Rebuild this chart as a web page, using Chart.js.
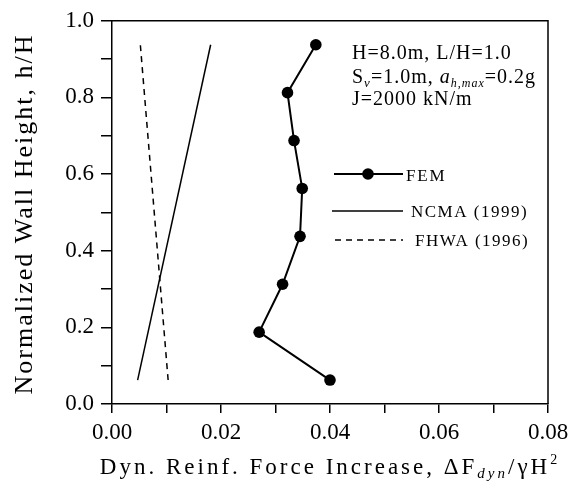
<!DOCTYPE html>
<html><head><meta charset="utf-8">
<script src="https://cdn.jsdelivr.net/npm/chart.js@4/dist/chart.umd.min.js"></script>
<style>html,body{margin:0;padding:0;background:#fff}#wrap{width:587px;height:483px}</style>
</head><body><div id="wrap"><canvas id="c" width="587" height="483"></canvas></div>
<script>
// ---- data ----
const heightRatio = [0.0625, 0.1875, 0.3125, 0.4375, 0.5625, 0.6875, 0.8125, 0.9375];
const femForce    = [0.0400, 0.0270, 0.0313, 0.0345, 0.0349, 0.0334, 0.0322, 0.0374];
const ncmaHeight  = [0.0625, 0.9375];
const ncmaForce   = [0.0047, 0.0181];
const fhwaHeight  = [0.0625, 0.9375];
const fhwaForce   = [0.0103, 0.0052];
const seriesNames = ['FEM', 'NCMA (1999)', 'FHWA (1996)'];
const xTickValues = [0, 0.01, 0.02, 0.03, 0.04, 0.05, 0.06, 0.07, 0.08];
const xTickLabels = ['0.00', '', '0.02', '', '0.04', '', '0.06', '', '0.08'];
const yTickValues = [0, 0.1, 0.2, 0.3, 0.4, 0.5, 0.6, 0.7, 0.8, 0.9, 1.0];
const yTickLabels = ['0.0', '', '0.2', '', '0.4', '', '0.6', '', '0.8', '', '1.0'];
const xTitle = 'Dyn. Reinf. Force Increase, ';
const yTitle = 'Normalized Wall Height, h/H';

const FONT = "'Liberation Serif', 'Times New Roman', serif";

function drawRuns(ctx, runs, x, y, align, spacing) {
  ctx.save();
  ctx.letterSpacing = spacing + 'px';
  ctx.textBaseline = 'alphabetic';
  ctx.textAlign = 'left';
  let total = 0;
  runs.forEach(r => { ctx.font = r.font; r.w = ctx.measureText(r.t).width; total += r.w; });
  let cx = align === 'center' ? x - total / 2 : x;
  runs.forEach(r => { ctx.font = r.font; ctx.fillText(r.t, cx, y + (r.dy || 0)); cx += r.w; });
  ctx.restore();
}

const decor = {
  id: 'decor',
  afterDraw(chart) {
    const ctx = chart.ctx, a = chart.chartArea;
    ctx.save();
    ctx.strokeStyle = '#000';
    ctx.lineWidth = 1.5;
    ctx.beginPath();
    ctx.moveTo(a.left, a.top); ctx.lineTo(a.right, a.top); ctx.lineTo(a.right, a.bottom);
    ctx.stroke();
    ctx.fillStyle = '#000';

    // annotation
    const f = s => s + 'px ' + FONT, fi = s => 'italic ' + s + 'px ' + FONT;
    drawRuns(ctx, [{t: 'H=8.0m, L/H=1.0', font: f(20)}], 352, 59, 'left', 1);
    drawRuns(ctx, [
      {t: 'S', font: f(20)}, {t: 'v', font: fi(13), dy: 4},
      {t: '=1.0m, ', font: f(20)}, {t: 'a', font: fi(20)}, {t: 'h,max', font: fi(12), dy: 4},
      {t: '=0.2g', font: f(20)}], 352, 83, 'left', 1);
    drawRuns(ctx, [{t: 'J=2000 kN/m', font: f(20)}], 352, 105, 'left', 1);

    // legend
    ctx.lineWidth = 2;
    ctx.beginPath(); ctx.moveTo(334, 174); ctx.lineTo(403, 174); ctx.stroke();
    ctx.beginPath(); ctx.arc(368, 174, 5.8, 0, Math.PI * 2); ctx.fill();
    ctx.lineWidth = 1.5;
    ctx.beginPath(); ctx.moveTo(332, 211); ctx.lineTo(403, 211); ctx.stroke();
    ctx.setLineDash([6, 5]);
    ctx.beginPath(); ctx.moveTo(335, 240); ctx.lineTo(403, 240); ctx.stroke();
    ctx.setLineDash([]);
    drawRuns(ctx, [{t: seriesNames[0], font: f(17)}], 406, 181, 'left', 1.8);
    drawRuns(ctx, [{t: seriesNames[1], font: f(17)}], 411, 217, 'left', 1.5);
    drawRuns(ctx, [{t: seriesNames[2], font: f(17)}], 415, 246, 'left', 1.5);

    // x title
    drawRuns(ctx, [
      {t: xTitle + '\u0394F', font: f(23)},
      {t: 'dyn', font: fi(15), dy: 4},
      {t: '/\u03B3H', font: f(23)},
      {t: '2', font: f(14), dy: -10}], 330, 474, 'center', 3);

    // y title
    ctx.save();
    ctx.translate(32, 214);
    ctx.rotate(-Math.PI / 2);
    drawRuns(ctx, [{t: yTitle, font: f(26)}], 0, 0, 'center', 2);
    ctx.restore();
    ctx.restore();
  }
};

const mk = (xs, ys) => ys.map((h, i) => ({x: xs[i], y: h}));

new Chart(document.getElementById('c'), {
  type: 'scatter',
  data: {
    datasets: [
      {label: seriesNames[0], data: mk(femForce, heightRatio), showLine: true, borderColor: '#000',
       backgroundColor: '#000', borderWidth: 2, pointRadius: 5.8, pointHoverRadius: 5.8, pointBorderWidth: 0},
      {label: seriesNames[1], data: mk(ncmaForce, ncmaHeight), showLine: true, borderColor: '#000',
       borderWidth: 1.5, pointRadius: 0},
      {label: seriesNames[2], data: mk(fhwaForce, fhwaHeight), showLine: true, borderColor: '#000',
       borderWidth: 1.5, borderDash: [6, 5], pointRadius: 0}
    ]
  },
  options: {
    responsive: false, animation: false, devicePixelRatio: 1,
    layout: {padding: {left: 0, right: 39, top: 16, bottom: 0}},
    plugins: {legend: {display: false}, tooltip: {enabled: false}},
    scales: {
      x: {
        type: 'linear', min: 0, max: 0.08, position: 'bottom',
        afterBuildTicks: s => { s.ticks = xTickValues.map(v => ({value: v})); },
        afterFit: s => { s.height = 79; },
        ticks: {callback: (v, i) => xTickLabels[i], color: '#000', font: {family: FONT, size: 23},
                maxRotation: 0, autoSkip: false, padding: 6},
        grid: {drawOnChartArea: false, tickLength: 9, color: '#000', lineWidth: 1.5},
        border: {color: '#000', width: 1.5}
      },
      y: {
        type: 'linear', min: 0, max: 1, position: 'left',
        afterBuildTicks: s => { s.ticks = yTickValues.map(v => ({value: v})); },
        afterFit: s => { s.width = 112; },
        ticks: {callback: (v, i) => yTickLabels[i], color: '#000', font: {family: FONT, size: 23},
                autoSkip: false, padding: 7},
        grid: {drawOnChartArea: false, tickLength: 11, color: '#000', lineWidth: 1.5},
        border: {color: '#000', width: 1.5}
      }
    }
  },
  plugins: [decor]
});
</script>
</body></html>
